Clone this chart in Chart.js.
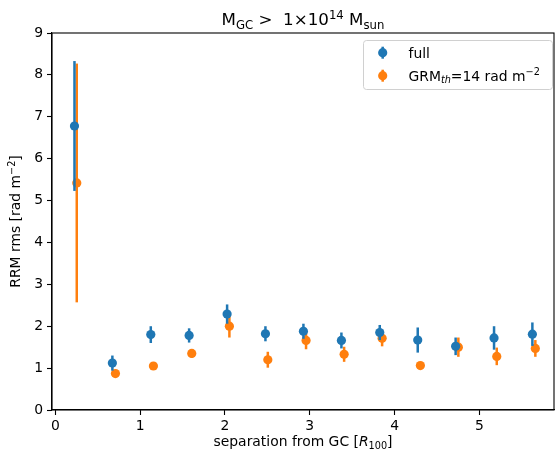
<!DOCTYPE html>
<html>
<head>
<meta charset="utf-8">
<script src="https://cdn.jsdelivr.net/npm/chart.js@4/dist/chart.umd.min.js"></script>
<style>
html,body{margin:0;padding:0;background:#fff;}
canvas{display:block;}
</style>
</head>
<body>
<canvas id="c" width="555" height="455"></canvas>
<script>
// ---- data ----
const fullX   = [0.225, 0.672, 1.125, 1.577, 2.025, 2.477, 2.925, 3.373, 3.825, 4.273, 4.720, 5.173, 5.625];
const fullY   = [6.78, 1.12, 1.80, 1.78, 2.29, 1.82, 1.88, 1.66, 1.85, 1.67, 1.52, 1.72, 1.81];
const fullErr = [1.55, 0.18, 0.20, 0.17, 0.23, 0.18, 0.18, 0.19, 0.18, 0.30, 0.21, 0.28, 0.28];

const grmX    = [0.252, 0.708, 1.156, 1.608, 2.052, 2.505, 2.956, 3.405, 3.853, 4.304, 4.752, 5.205, 5.660];
const grmY    = [5.42, 0.87, 1.05, 1.35, 2.00, 1.20, 1.66, 1.33, 1.71, 1.06, 1.50, 1.28, 1.47];
const grmErr  = [2.85, 0.08, 0.07, 0.10, 0.27, 0.19, 0.21, 0.18, 0.19, 0.08, 0.23, 0.21, 0.20];

const xTicks = [0, 1, 2, 3, 4, 5];
const yTicks = [0, 1, 2, 3, 4, 5, 6, 7, 8, 9];

const seriesNames = ['full', 'GRM'];
const BLUE = '#1f77b4', ORANGE = '#ff7f0e';
const FONT = '"DejaVu Sans", sans-serif';
const FS = 13.9;

// ---- rich text helper (sub/superscripts) ----
function richWidth(ctx, segs, base) {
  let w = 0;
  for (const s of segs) {
    const size = s.size || base;
    ctx.font = (s.italic ? 'italic ' : '') + size + 'px ' + FONT;
    w += ctx.measureText(s.t).width;
  }
  return w;
}
function drawRich(ctx, segs, base, x, y, align) {
  const w = richWidth(ctx, segs, base);
  let cx = align === 'center' ? x - w / 2 : (align === 'right' ? x - w : x);
  ctx.textBaseline = 'alphabetic';
  ctx.textAlign = 'left';
  for (const s of segs) {
    const size = s.size || base;
    ctx.font = (s.italic ? 'italic ' : '') + size + 'px ' + FONT;
    ctx.fillText(s.t, cx, y + (s.dy || 0));
    cx += ctx.measureText(s.t).width;
  }
}

const errData = [fullErr, grmErr];
const xData = [fullX, grmX];
const yData = [fullY, grmY];

const errorBarPlugin = {
  id: 'errbars',
  beforeDatasetDraw(chart, args) {
    const i = args.index;
    const ctx = chart.ctx, xs = chart.scales.x, ys = chart.scales.y;
    const ds = chart.data.datasets[i];
    ctx.save();
    const a = chart.chartArea;
    ctx.beginPath(); ctx.rect(a.left, a.top, a.right - a.left, a.bottom - a.top); ctx.clip();
    ctx.strokeStyle = ds.backgroundColor;
    ctx.lineWidth = 2.5;
    ctx.lineCap = 'butt';
    for (let k = 0; k < xData[i].length; k++) {
      const px = xs.getPixelForValue(xData[i][k]);
      const y1 = ys.getPixelForValue(yData[i][k] + errData[i][k]);
      const y2 = ys.getPixelForValue(yData[i][k] - errData[i][k]);
      ctx.beginPath(); ctx.moveTo(px, y1); ctx.lineTo(px, y2); ctx.stroke();
    }
    ctx.restore();
  }
};

const decoPlugin = {
  id: 'deco',
  afterDraw(chart) {
    const ctx = chart.ctx, a = chart.chartArea;
    ctx.save();
    // spines
    ctx.strokeStyle = '#000'; ctx.lineWidth = 1.1;
    ctx.strokeRect(a.left, a.top, a.right - a.left, a.bottom - a.top);
    ctx.fillStyle = '#000';
    const cxm = (a.left + a.right) / 2;
    // title
    const T = 16.7, Ts = 11.7;
    drawRich(ctx, [
      {t: 'M'}, {t: 'GC', size: Ts, dy: 3.5}, {t: ' >  1×10'}, {t: '14', size: Ts, dy: -6.5},
      {t: ' M'}, {t: 'sun', size: Ts, dy: 3.5}
    ], T, cxm, 25, 'center');
    // x label
    drawRich(ctx, [
      {t: 'separation from GC ['}, {t: 'R', italic: true}, {t: '100', size: 9.7, dy: 2.5}, {t: ']'}
    ], FS, cxm, 446, 'center');
    // y label
    ctx.save();
    ctx.translate(20, (a.top + a.bottom) / 2);
    ctx.rotate(-Math.PI / 2);
    drawRich(ctx, [{t: 'RRM rms [rad m'}, {t: '−2', size: 9.7, dy: -5.5}, {t: ']'}], FS, 0, 0, 'center');
    ctx.restore();
    // legend
    const lx = 363.5, ly = 40.5, lw = 189, lh = 49, r = 3;
    ctx.beginPath();
    ctx.moveTo(lx + r, ly); ctx.lineTo(lx + lw - r, ly); ctx.quadraticCurveTo(lx + lw, ly, lx + lw, ly + r);
    ctx.lineTo(lx + lw, ly + lh - r); ctx.quadraticCurveTo(lx + lw, ly + lh, lx + lw - r, ly + lh);
    ctx.lineTo(lx + r, ly + lh); ctx.quadraticCurveTo(lx, ly + lh, lx, ly + lh - r);
    ctx.lineTo(lx, ly + r); ctx.quadraticCurveTo(lx, ly, lx + r, ly); ctx.closePath();
    ctx.fillStyle = 'rgba(255,255,255,0.8)'; ctx.fill();
    ctx.strokeStyle = '#d0d0d0'; ctx.lineWidth = 1; ctx.stroke();
    const rows = [
      {c: BLUE, y: 52.7, segs: [{t: seriesNames[0]}]},
      {c: ORANGE, y: 75.7, segs: [{t: 'GRM'}, {t: 'th', size: 9.7, dy: 2.5, italic: true}, {t: '=14 rad m'}, {t: '−2', size: 9.7, dy: -5.5}]}
    ];
    for (const row of rows) {
      ctx.strokeStyle = row.c; ctx.lineWidth = 2.5;
      ctx.beginPath(); ctx.moveTo(382.7, row.y - 6); ctx.lineTo(382.7, row.y + 6); ctx.stroke();
      ctx.fillStyle = row.c;
      ctx.beginPath(); ctx.arc(382.7, row.y, 4.6, 0, Math.PI * 2); ctx.fill();
      ctx.fillStyle = '#000';
      drawRich(ctx, row.segs, FS, 408.5, row.y + 5, 'left');
    }
    ctx.restore();
  }
};

const tickFont = {family: FONT, size: FS};

new Chart(document.getElementById('c'), {
  type: 'scatter',
  data: {
    datasets: [
      {label: seriesNames[0], data: fullX.map((x, k) => ({x, y: fullY[k]})), backgroundColor: BLUE, borderColor: BLUE,
       borderWidth: 0, pointRadius: 4.6, pointHoverRadius: 4.6, showLine: false},
      {label: seriesNames[1], data: grmX.map((x, k) => ({x, y: grmY[k]})), backgroundColor: ORANGE, borderColor: ORANGE,
       borderWidth: 0, pointRadius: 4.6, pointHoverRadius: 4.6, showLine: false}
    ]
  },
  options: {
    responsive: false,
    animation: false,
    events: [],
    layout: {autoPadding: false, padding: {top: 33, right: 1, left: 0, bottom: 0}},
    plugins: {legend: {display: false}, tooltip: {enabled: false}, title: {display: false}},
    scales: {
      x: {
        type: 'linear', min: -0.04, max: 5.88,
        afterBuildTicks: s => { s.ticks = xTicks.map(v => ({value: v})); },
        afterFit: s => { s.height = 45; s.paddingLeft = 0; s.paddingRight = 0; },
        ticks: {font: tickFont, color: '#000', padding: 3, maxRotation: 0, autoSkip: false},
        grid: {drawOnChartArea: false, drawTicks: true, tickLength: 5, color: '#000', tickWidth: 1.1},
        border: {display: true, color: '#000', width: 1.1}
      },
      y: {
        type: 'linear', min: 0, max: 9,
        afterBuildTicks: s => { s.ticks = yTicks.map(v => ({value: v})); },
        afterFit: s => { s.width = 52; s.paddingTop = 0; s.paddingBottom = 0; },
        ticks: {font: tickFont, color: '#000', padding: 4, autoSkip: false},
        grid: {drawOnChartArea: false, drawTicks: true, tickLength: 5, color: '#000', tickWidth: 1.1},
        border: {display: true, color: '#000', width: 1.1}
      }
    }
  },
  plugins: [errorBarPlugin, decoPlugin]
});
</script>
</body>
</html>
